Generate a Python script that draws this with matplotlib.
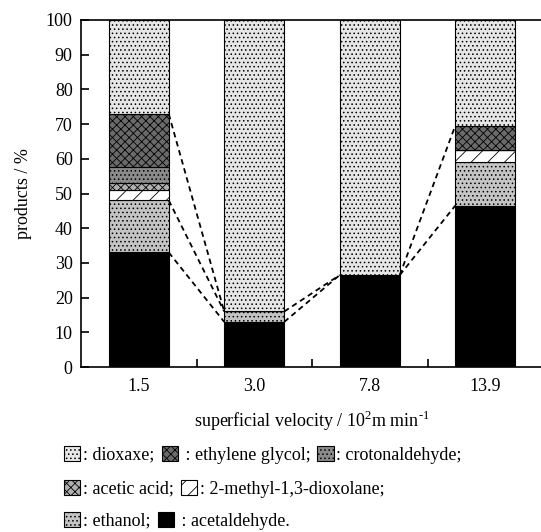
"""Product distribution vs superficial velocity (stacked bars, grayscale patterns)."""

import matplotlib.pyplot as plt
from matplotlib.patches import Patch
import numpy as np

plt.rcParams["font.family"] = ["Liberation Serif", "DejaVu Serif"]
plt.rcParams["mathtext.fontset"] = "custom"
plt.rcParams["mathtext.rm"] = "Liberation Serif"
plt.rcParams["hatch.linewidth"] = 0.6

# ── Data ──────────────────────────────────────────────────────────────────────
velocities = ["1.5", "3.0", "7.8", "13.9"]

acetaldehyde    = [33.0, 13.0, 26.5, 46.5]
ethanol         = [15.0, 3.0, 0.0, 12.5]
dioxolane       = [3.0, 0.0, 0.0, 3.5]
acetic_acid     = [2.0, 0.0, 0.0, 0.0]
crotonaldehyde  = [4.6, 0.0, 0.0, 0.0]
ethylene_glycol = [15.3, 0.0, 0.0, 7.0]
dioxaxe         = [27.1, 84.0, 73.5, 30.5]

# dashed connectors: (from bar, cumulative level) -> (to bar, cumulative level)
links = [
    (0, 72.9, 1, 16.0), (0, 48.0, 1, 16.0), (0, 33.0, 1, 13.0),
    (1, 16.0, 2, 26.5), (1, 13.0, 2, 26.5),
    (2, 26.5, 3, 69.5), (2, 26.5, 3, 46.5),
]
# ─────────────────────────────────────────────────────────────────────────────

series = [
    ("acetaldehyde", acetaldehyde,    dict(facecolor="black", hatch=None)),
    ("ethanol",      ethanol,         dict(facecolor="#c4c4c4", hatch="....")),
    ("2-methyl-1,3-dioxolane", dioxolane, dict(facecolor="white", hatch="//")),
    ("acetic acid",  acetic_acid,     dict(facecolor="#b0b0b0", hatch="xxxx")),
    ("crotonaldehyde", crotonaldehyde, dict(facecolor="#8a8a8a", hatch="....")),
    ("ethylene glycol", ethylene_glycol, dict(facecolor="#6a6a6a", hatch="xxxx")),
    ("dioxaxe",      dioxaxe,         dict(facecolor="#e6e6e6", hatch="....")),
]

x = np.arange(len(velocities))
width = 0.52

fig = plt.figure(figsize=(5.41, 5.32), dpi=100)
ax = fig.add_axes([81 / 541, 1 - 367 / 532, 462 / 541, 347 / 532])

bottom = np.zeros(len(x))
for name, vals, style in series:
    vals = np.array(vals)
    ax.bar(x, vals, width, bottom=bottom, edgecolor="black", linewidth=0.8, **style)
    bottom += vals

for i0, y0, i1, y1 in links:
    ax.plot([x[i0] + width / 2, x[i1] - width / 2], [y0, y1],
            color="black", lw=1.3, ls=(0, (3, 2.2)))

ax.set_xlim(-0.5, 3.5)
ax.set_ylim(0, 100)
ax.set_xticks(x)
ax.set_xticklabels(velocities, fontsize=13)
ax.set_xticks(x[:-1] + 0.5, minor=True)
ax.tick_params(axis="x", which="major", length=0, pad=8)
ax.tick_params(axis="x", which="minor", direction="in", length=6, width=1.2)
ax.set_yticks(np.arange(0, 101, 10))
ax.tick_params(axis="y", direction="in", length=6, width=1.2, labelsize=13, pad=6)
for s in ax.spines.values():
    s.set_linewidth(1.2)

ax.set_ylabel("products / %", fontsize=13, labelpad=10)
ax.set_xlabel(r"superficial velocity / 10$^\mathregular{2}$m min$^\mathregular{\text{-}1}$",
              fontsize=13, labelpad=10)

# legend in three rows, like the caption under the figure
styles = {name: style for name, _, style in series}


def handle(name):
    return Patch(edgecolor="black", linewidth=0.8, **styles[name])


rows = [
    ([("dioxaxe", ": dioxaxe;"), ("ethylene glycol", " : ethylene glycol;"),
      ("crotonaldehyde", ": crotonaldehyde;")], 455),
    ([("acetic acid", ": acetic acid;"), ("2-methyl-1,3-dioxolane", ": 2-methyl-1,3-dioxolane;")], 489),
    ([("ethanol", ": ethanol;"), ("acetaldehyde", " : acetaldehyde.")], 521),
]
for items, ypix in rows:
    fig.legend([handle(n) for n, _ in items], [lab for _, lab in items],
               loc="center left", bbox_to_anchor=(64 / 541, 1 - ypix / 532),
               ncol=len(items), frameon=False, fontsize=13,
               handlelength=0.9, handleheight=0.9, handletextpad=0.15,
               columnspacing=0.4, borderpad=0, borderaxespad=0)

fig.savefig("out.png", dpi=100)
